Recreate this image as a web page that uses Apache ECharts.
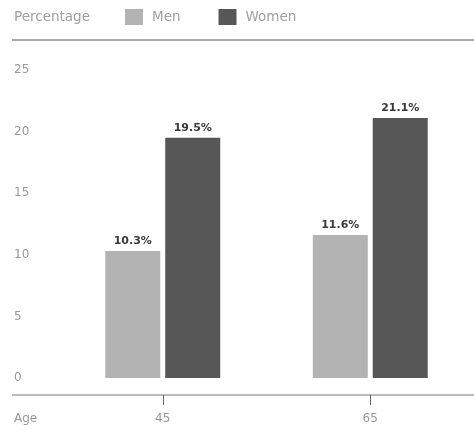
<!DOCTYPE html>
<html>
<head>
<meta charset="utf-8">
<script src="https://cdn.jsdelivr.net/npm/echarts@6/dist/echarts.min.js"></script>
<style>
  html, body { margin: 0; padding: 0; background: #fff; }
  #chart { width: 474px; height: 430px; }
</style>
</head>
<body>
<div id="chart"></div>
<script>
// Share of people at each age, by sex
const ages = ['45', '65'];
const men = [10.3, 11.6];
const women = [19.5, 21.1];
const yTicks = [0, 5, 10, 15, 20, 25];

const textColor = '#999';
const font = '"DejaVu Sans", sans-serif';

const chart = echarts.init(document.getElementById('chart'));

const labelStyle = {
  show: true,
  position: 'top',
  distance: 4,
  formatter: p => p.value.toFixed(1) + '%',
  color: '#3a3a3a',
  fontWeight: 'bold',
  fontSize: 11,
  fontFamily: font
};

chart.setOption({
  animation: false,
  textStyle: { fontFamily: font },
  title: [
    { text: 'Percentage', left: 14, top: 10, padding: 0,
      textStyle: { fontSize: 13.5, fontWeight: 'normal', color: '#a0a0a0', fontFamily: font } },
    { text: 'Age', left: 14, top: 413, padding: 0,
      textStyle: { fontSize: 12, fontWeight: 'normal', color: textColor, fontFamily: font } }
  ],
  legend: {
    left: 125, top: 9, padding: 0,
    itemWidth: 18, itemHeight: 16, itemGap: 38,
    icon: 'rect',
    textStyle: { fontSize: 13.5, color: '#a0a0a0', fontFamily: font, padding: [0, 0, 0, 4] },
    data: ['Men', 'Women']
  },
  graphic: [
    {
      type: 'line',
      shape: { x1: 12, y1: 40, x2: 474, y2: 40 },
      style: { stroke: '#555', lineWidth: 1 }
    },
    {
      type: 'line',
      shape: { x1: 12, y1: 395, x2: 474, y2: 395 },
      style: { stroke: '#777', lineWidth: 1 }
    }
  ],
  grid: { left: 59, right: 0, top: 70, bottom: 52 },
  xAxis: {
    type: 'category',
    data: ages,
    offset: 17,
    axisLine: { show: false, onZero: false },
    axisTick: { show: true, alignWithLabel: true, length: 10, lineStyle: { color: '#666' } },
    axisLabel: { color: textColor, fontSize: 12, margin: 18, fontFamily: font }
  },
  yAxis: {
    type: 'value',
    min: yTicks[0],
    max: yTicks[yTicks.length - 1],
    interval: 5,
    splitLine: { show: false },
    axisLine: { show: false },
    axisTick: { show: false },
    axisLabel: { color: textColor, fontSize: 12, align: 'left', margin: 45, fontFamily: font }
  },
  series: [
    {
      name: 'Men', type: 'bar', data: men,
      barWidth: 55, barGap: '9%',
      itemStyle: { color: '#b3b3b3' },
      label: labelStyle
    },
    {
      name: 'Women', type: 'bar', data: women,
      barWidth: 55,
      itemStyle: { color: '#575757' },
      label: labelStyle
    }
  ]
});
</script>
</body>
</html>
